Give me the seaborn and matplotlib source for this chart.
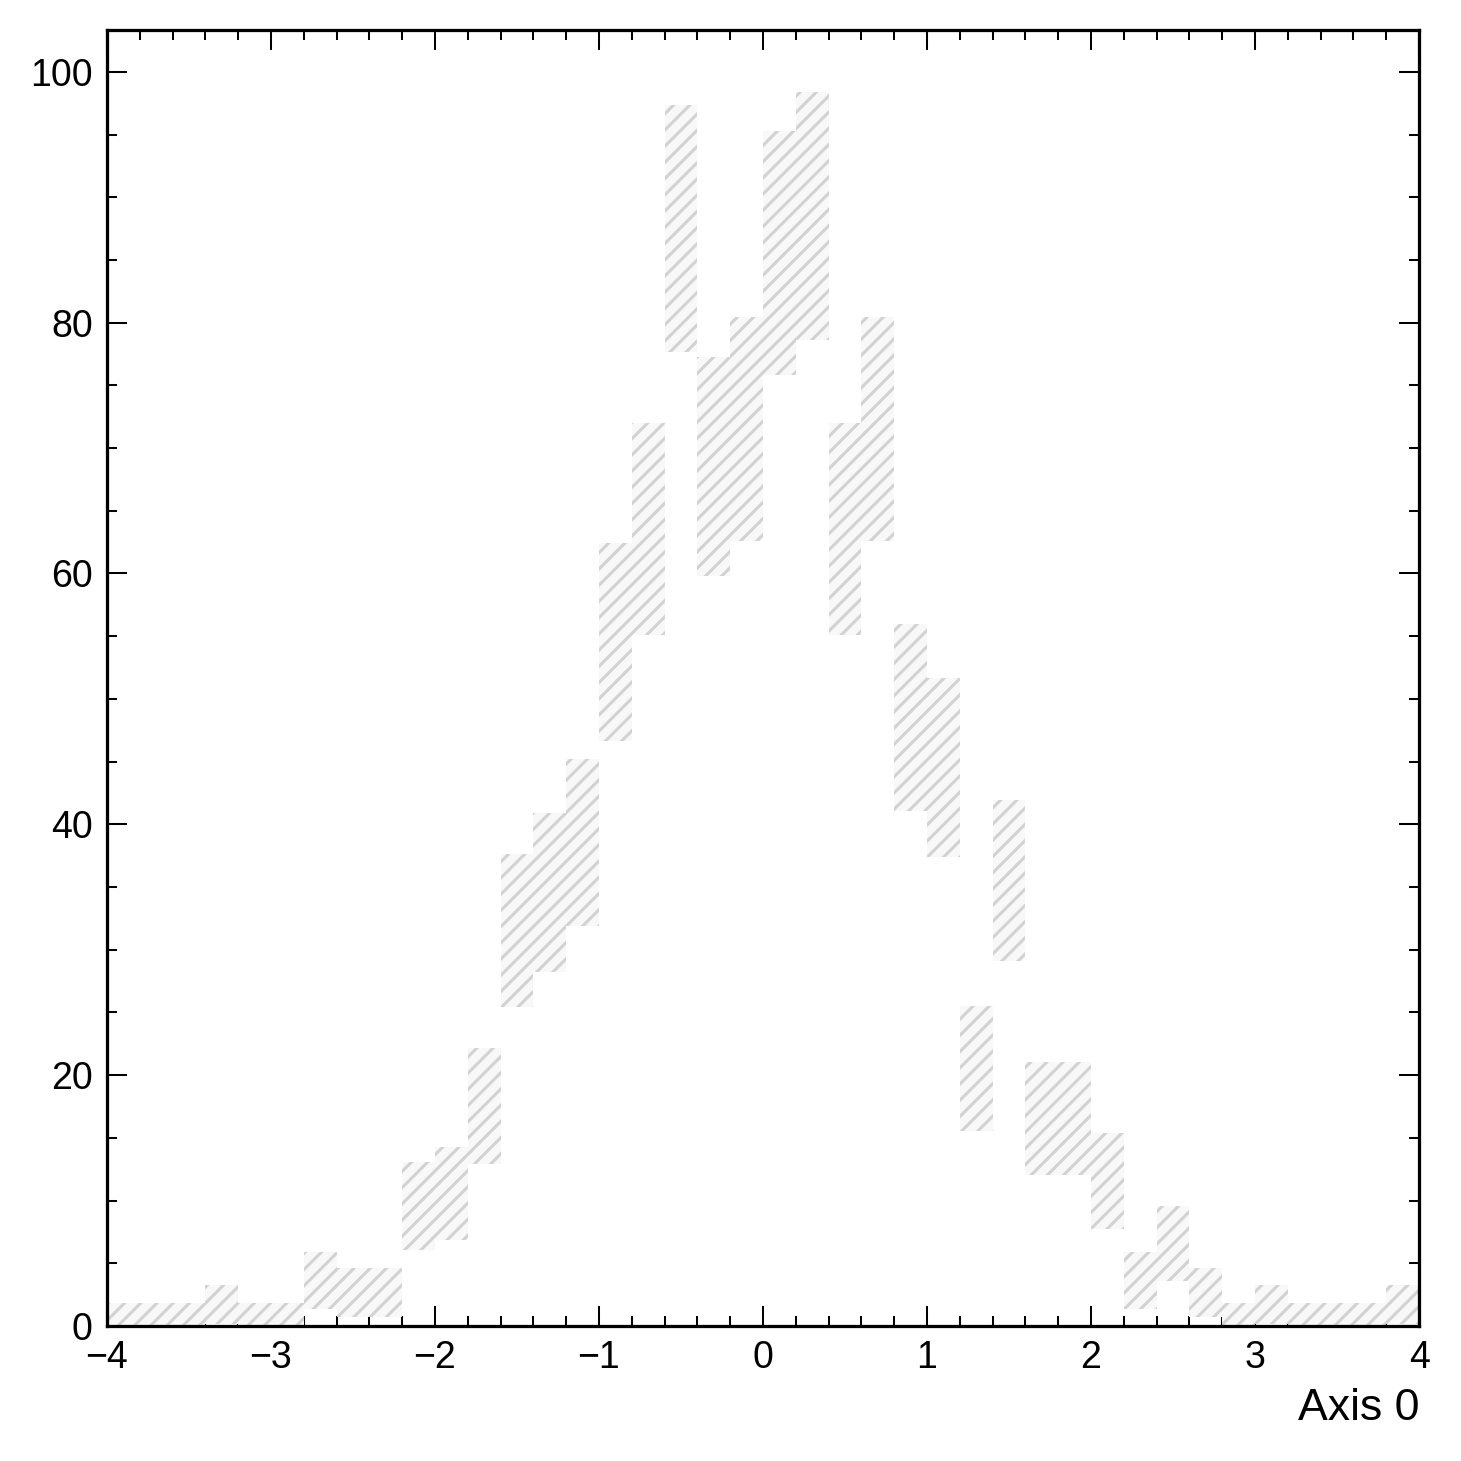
import math
import numpy as np
import matplotlib
matplotlib.use("Agg")
import matplotlib.pyplot as plt
import seaborn as sns
from matplotlib.ticker import MultipleLocator

# ---- data ----
bin_edges = np.linspace(-4, 4, 41)
counts = [0, 0, 0, 1, 0, 0, 3, 2, 2, 9,
          10, 17, 31, 34, 38, 54, 63, 87, 68, 71,
          85, 88, 63, 71, 48, 44, 20, 35, 16, 16,
          11, 3, 6, 2, 0, 1, 0, 0, 0, 1]
x_label = "Axis 0"
x_ticks = [-4, -3, -2, -1, 0, 1, 2, 3, 4]
y_ticks = [0, 20, 40, 60, 80, 100]


# ---- Garwood (Poisson) interval ----
def gammainc_p(a, x):
    if x <= 0:
        return 0.0
    if x < a + 1:
        term = 1.0 / a
        s = term
        ap = a
        for _ in range(500):
            ap += 1
            term *= x / ap
            s += term
            if abs(term) < abs(s) * 1e-14:
                break
        return s * math.exp(-x + a * math.log(x) - math.lgamma(a))
    b = x + 1 - a
    c = 1e300
    d = 1 / b
    h = d
    for i in range(1, 500):
        an = -i * (i - a)
        b += 2
        d = an * d + b
        if abs(d) < 1e-300:
            d = 1e-300
        c = b + an / c
        if abs(c) < 1e-300:
            c = 1e-300
        d = 1 / d
        delta = d * c
        h *= delta
        if abs(delta - 1) < 1e-14:
            break
    return 1 - math.exp(-x + a * math.log(x) - math.lgamma(a)) * h


def gammaincinv(a, p):
    lo, hi = 0.0, 1000.0
    for _ in range(200):
        mid = 0.5 * (lo + hi)
        if gammainc_p(a, mid) < p:
            lo = mid
        else:
            hi = mid
    return 0.5 * (lo + hi)


q_lo = (1 - 0.682689492) / 2
q_hi = 1 - q_lo
lower = np.array([0.0 if n == 0 else gammaincinv(n, q_lo) for n in counts])
upper = np.array([gammaincinv(n + 1, q_hi) for n in counts])

# ---- style ----
sns.set_theme(style="ticks")
plt.rcParams["font.family"] = ["Liberation Sans", "DejaVu Sans"]
plt.rcParams["hatch.color"] = "#d2d2d2"
plt.rcParams["hatch.linewidth"] = 1.5
plt.rcParams["text.color"] = "black"
plt.rcParams["axes.labelcolor"] = "black"
plt.rcParams["xtick.color"] = "black"
plt.rcParams["ytick.color"] = "black"

fig = plt.figure(figsize=(10, 10), dpi=146.1)
ax = fig.add_axes([0.0732, 0.0924, 0.9713 - 0.0732, 0.9795 - 0.0924])

ax.stairs(upper, bin_edges, baseline=lower, fill=True,
          facecolor="#f8f8f8", edgecolor="#d2d2d2", hatch="///", linewidth=0)

ax.set_xlim(-4, 4)
ax.set_ylim(0, max(upper) * 1.05)
ax.set_xticks(x_ticks)
ax.set_yticks(y_ticks)
ax.xaxis.set_minor_locator(MultipleLocator(0.2))
ax.yaxis.set_minor_locator(MultipleLocator(5))
ax.tick_params(which="both", direction="in", top=True, right=True,
               labelsize=18.5, color="black", labelcolor="black")
ax.tick_params(which="major", length=10, width=1.0, pad=7)
ax.tick_params(which="minor", length=5, width=1.0)
for s in ax.spines.values():
    s.set_linewidth(1.6)
    s.set_color("black")

ax.set_xlabel(x_label, fontsize=22, loc="right", labelpad=6, color="black")
ax.set_ylabel("")

fig.savefig("out.png", dpi=146.1)
